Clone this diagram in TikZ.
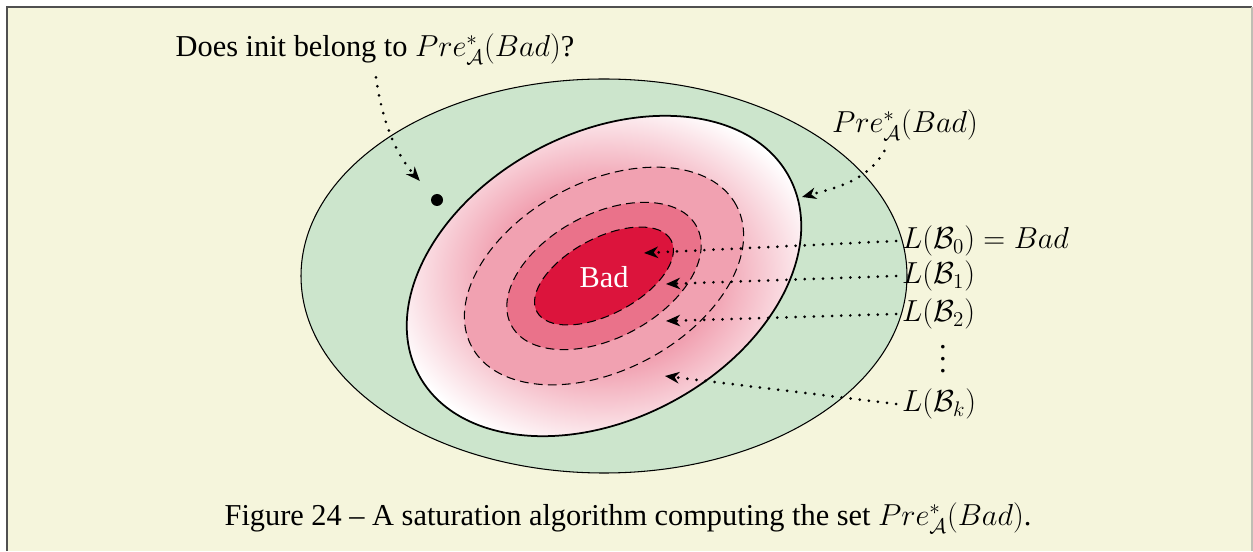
\documentclass[tikz,border=0pt]{standalone}
\usepackage[no-math]{fontspec}
\setmainfont{Liberation Serif}
\usepackage{tikz}
\usetikzlibrary{arrows.meta}

\definecolor{framebg}{RGB}{245,245,220}
\definecolor{framedark}{RGB}{80,80,80}
\definecolor{framelight}{RGB}{190,190,180}
\definecolor{setgreen}{RGB}{204,229,204}
\definecolor{badred}{RGB}{220,20,60}
\colorlet{levelone}{badred!60!white}
\colorlet{leveltwo}{badred!40!white}

\pgfdeclareradialshading{preshading}{\pgfpointorigin}{%
  color(0bp)=(leveltwo); color(12.5bp)=(leveltwo); color(25bp)=(white); color(50bp)=(white)}

\tikzset{
  dashedset/.style={dash pattern=on 5pt off 3pt, line width=0.6pt},
  dotarrow/.style={line width=1.7pt, line cap=round, dash pattern=on 0pt off 5.2pt,
    -{Stealth[length=8pt, width=6.5pt, inset=2.5pt]}},
}

\begin{document}
\begin{tikzpicture}[x=0.02cm, y=0.02cm, font=\fontsize{17.28}{21}\selectfont]
\useasboundingbox (0,0) rectangle (1253,551);
\fill[framebg] (7,0) rectangle (1252,544);
\draw[framedark, line width=1.2pt] (7,0) -- (7,544) -- (1252,544);
\draw[framelight, line width=0.6pt] (1252,0) -- (1252,544);

\coordinate (c) at (604,275);
\filldraw[fill=setgreen, line width=0.6pt] (c) ellipse (303 and 197);
\shadedraw[shading=preshading, line width=1pt, rotate around={28:(c)}] (c) ellipse (210 and 143);
\filldraw[fill=leveltwo, dashedset, rotate around={28:(c)}] (c) ellipse (150 and 94);
\filldraw[fill=levelone, dashedset, rotate around={28:(c)}] (c) ellipse (105 and 62);
\filldraw[fill=badred, dashedset, rotate around={28:(c)}] (c) ellipse (76 and 38);
\node[text=white] (bad) at (604,274) {Bad};

\node (initq) at (375,502) {Does init belong to $Pre^*_{\mathcal{A}}(Bad)$?};
\node[circle, fill, inner sep=0pt, minimum size=0.24cm] (init) at (437,351) {};
\node (preq) at (905,426) {$Pre^*_{\mathcal{A}}(Bad)$};
\node[anchor=west] (lbzero) at (896,310) {$L(\mathcal{B}_0) = Bad$};
\node[anchor=west] (lbone) at (896,275) {$L(\mathcal{B}_1)$};
\node[anchor=west] (lbtwo) at (896,237) {$L(\mathcal{B}_2)$};
\node (vdots) at (943,192) {\vbox{\baselineskip=6.8pt\lineskiplimit=0pt\hbox{.}\hbox{.}\hbox{.}}};
\node[anchor=west] (lbk) at (896,147) {$L(\mathcal{B}_k)$};
\node (caption) at (628,33) {Figure 24 – A saturation algorithm computing the set $Pre^*_{\mathcal{A}}(Bad)$.};

\coordinate (pretip) at (802,354);
\coordinate (tipzero) at (644,298);
\coordinate (tipone) at (666,267);
\coordinate (tiptwo) at (666,230);
\coordinate (tipk) at (665,175);

\draw[dotarrow, shorten <=4pt, shorten >=11pt] (initq.south) to[out=-82, in=132] (init);
\draw[dotarrow, shorten <=3pt] ([xshift=-0.36cm]preq.south) to[out=-120, in=15] (pretip);
\draw[dotarrow] (lbzero.west) -- (tipzero);
\draw[dotarrow] (lbone.west) -- (tipone);
\draw[dotarrow] (lbtwo.west) -- (tiptwo);
\draw[dotarrow] (lbk.west) -- (tipk);
\end{tikzpicture}
\end{document}
